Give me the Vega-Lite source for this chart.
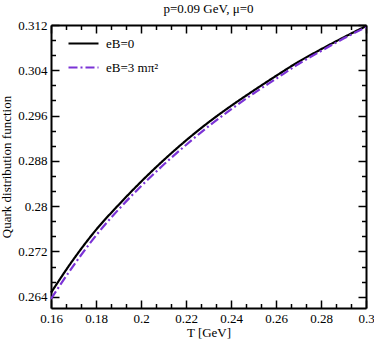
{
  "$schema": "https://vega.github.io/schema/vega-lite/v6.json",
  "autosize": "none",
  "width": 315,
  "height": 283,
  "padding": {"left": 51, "top": 25, "right": 8, "bottom": 31},
  "background": "white",
  "title": {"text": "p=0.09 GeV, μ=0", "font": "Liberation Serif", "fontSize": 13, "fontWeight": "normal", "color": "black", "offset": 3},
  "data": {"values": [
    {"T": 0.16, "v": 0.2647, "series": "eB=0"},
    {"T": 0.17, "v": 0.2706, "series": "eB=0"},
    {"T": 0.18, "v": 0.2758, "series": "eB=0"},
    {"T": 0.19, "v": 0.2802, "series": "eB=0"},
    {"T": 0.20, "v": 0.2843, "series": "eB=0"},
    {"T": 0.21, "v": 0.2881, "series": "eB=0"},
    {"T": 0.22, "v": 0.2916, "series": "eB=0"},
    {"T": 0.23, "v": 0.2948, "series": "eB=0"},
    {"T": 0.24, "v": 0.2977, "series": "eB=0"},
    {"T": 0.25, "v": 0.3004, "series": "eB=0"},
    {"T": 0.26, "v": 0.3030, "series": "eB=0"},
    {"T": 0.27, "v": 0.3055, "series": "eB=0"},
    {"T": 0.28, "v": 0.3077, "series": "eB=0"},
    {"T": 0.29, "v": 0.3098, "series": "eB=0"},
    {"T": 0.30, "v": 0.3118, "series": "eB=0"},
    {"T": 0.16, "v": 0.2636, "series": "eB=3 mπ²"},
    {"T": 0.17, "v": 0.2695, "series": "eB=3 mπ²"},
    {"T": 0.18, "v": 0.2748, "series": "eB=3 mπ²"},
    {"T": 0.19, "v": 0.2794, "series": "eB=3 mπ²"},
    {"T": 0.20, "v": 0.2835, "series": "eB=3 mπ²"},
    {"T": 0.21, "v": 0.2873, "series": "eB=3 mπ²"},
    {"T": 0.22, "v": 0.2908, "series": "eB=3 mπ²"},
    {"T": 0.23, "v": 0.2941, "series": "eB=3 mπ²"},
    {"T": 0.24, "v": 0.2971, "series": "eB=3 mπ²"},
    {"T": 0.25, "v": 0.2999, "series": "eB=3 mπ²"},
    {"T": 0.26, "v": 0.3025, "series": "eB=3 mπ²"},
    {"T": 0.27, "v": 0.3051, "series": "eB=3 mπ²"},
    {"T": 0.28, "v": 0.3074, "series": "eB=3 mπ²"},
    {"T": 0.29, "v": 0.3096, "series": "eB=3 mπ²"},
    {"T": 0.30, "v": 0.3116, "series": "eB=3 mπ²"}
  ]},
  "layer": [
    {
      "mark": {"type": "line", "strokeWidth": 2.2, "interpolate": "monotone"},
      "encoding": {
        "x": {"field": "T", "type": "quantitative",
          "scale": {"domain": [0.16, 0.3], "nice": false, "zero": false},
          "axis": {"orient": "bottom", "values": [0.16, 0.18, 0.2, 0.22, 0.24, 0.26, 0.28, 0.3], "format": ".3~g", "tickSize": -8, "labelPadding": 12, "labelLimit": 100, "labelFlush": false, "labelOverlap": false, "labelFont": "Liberation Serif", "labelFontSize": 13, "title": "T [GeV]", "titleFont": "Liberation Serif", "titlePadding": 1}},
        "y": {"field": "v", "type": "quantitative",
          "scale": {"domain": [0.262, 0.312], "nice": false, "zero": false},
          "axis": {"orient": "left", "values": [0.264, 0.272, 0.28, 0.288, 0.296, 0.304, 0.312], "format": ".3~g", "tickSize": -8, "labelPadding": 12, "labelLimit": 100, "labelFlush": false, "labelOverlap": false, "labelFont": "Liberation Serif", "labelFontSize": 13, "title": "Quark distribution function", "titleFont": "Liberation Serif", "titlePadding": 4}},
        "color": {"field": "series", "type": "nominal",
          "scale": {"domain": ["eB=0", "eB=3 mπ²"], "range": ["#000000", "#7b33d6"]},
          "legend": {"orient": "none", "legendX": 16, "legendY": 2, "title": null, "symbolType": "stroke", "symbolSize": 900, "symbolStrokeWidth": 2.2, "labelFont": "Liberation Serif", "labelFontSize": 13, "labelColor": "black", "rowPadding": -8, "labelOffset": 6, "padding": 0}},
        "strokeDash": {"field": "series", "type": "nominal",
          "scale": {"domain": ["eB=0", "eB=3 mπ²"], "range": [[1, 0], [9, 3, 2, 3]]}}
      }
    },
    {
      "mark": {"type": "line", "opacity": 0},
      "encoding": {
        "x": {"field": "T", "type": "quantitative",
          "axis": {"orient": "top", "values": [0.16, 0.18, 0.2, 0.22, 0.24, 0.26, 0.28, 0.3], "tickSize": -8, "labels": false, "title": null}},
        "y": {"field": "v", "type": "quantitative",
          "axis": {"orient": "right", "values": [0.264, 0.272, 0.28, 0.288, 0.296, 0.304, 0.312], "tickSize": -8, "labels": false, "title": null}},
        "detail": {"field": "series"}
      }
    },
    {
      "mark": {"type": "line", "opacity": 0},
      "encoding": {
        "x": {"field": "T", "type": "quantitative",
          "axis": {"orient": "bottom", "values": [0.16667, 0.17333, 0.18667, 0.19333, 0.20667, 0.21333, 0.22667, 0.23333, 0.24667, 0.25333, 0.26667, 0.27333, 0.28667, 0.29333], "tickSize": -4.5, "labels": false, "domain": false, "title": null}},
        "y": {"field": "v", "type": "quantitative",
          "axis": {"orient": "left", "values": [0.26667, 0.26933, 0.27467, 0.27733, 0.28267, 0.28533, 0.29067, 0.29333, 0.29867, 0.30133, 0.30667, 0.30933], "tickSize": -4.5, "labels": false, "domain": false, "title": null}},
        "detail": {"field": "series"}
      }
    },
    {
      "mark": {"type": "line", "opacity": 0},
      "encoding": {
        "x": {"field": "T", "type": "quantitative",
          "axis": {"orient": "top", "values": [0.16667, 0.17333, 0.18667, 0.19333, 0.20667, 0.21333, 0.22667, 0.23333, 0.24667, 0.25333, 0.26667, 0.27333, 0.28667, 0.29333], "tickSize": -4.5, "labels": false, "domain": false, "title": null}},
        "y": {"field": "v", "type": "quantitative",
          "axis": {"orient": "right", "values": [0.26667, 0.26933, 0.27467, 0.27733, 0.28267, 0.28533, 0.29067, 0.29333, 0.29867, 0.30133, 0.30667, 0.30933], "tickSize": -4.5, "labels": false, "domain": false, "title": null}},
        "detail": {"field": "series"}
      }
    }
  ],
  "resolve": {"axis": {"x": "independent", "y": "independent"}},
  "config": {
    "font": "Liberation Serif",
    "view": {"stroke": null},
    "axis": {
      "grid": false,
      "domainColor": "black",
      "domainWidth": 2,
      "tickColor": "black",
      "tickWidth": 1.5,
      "labelFont": "Liberation Serif",
      "labelFontSize": 13,
      "labelColor": "black",
      "titleFont": "Liberation Serif",
      "titleFontSize": 13,
      "titleFontWeight": "normal",
      "titleColor": "black"
    }
  }
}
